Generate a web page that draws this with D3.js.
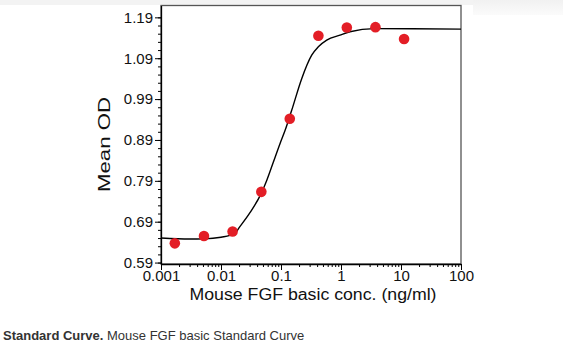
<!DOCTYPE html>
<html>
<head>
<meta charset="utf-8">
<script src="https://cdn.jsdelivr.net/npm/d3@7"></script>
<style>
html,body{margin:0;padding:0;background:#fff;}
svg{display:block;font-family:"Liberation Sans",Arial,Helvetica,sans-serif;}
</style>
</head>
<body>
<svg id="chart" width="563" height="355"></svg>
<script>
// Standards (ng/ml) and measured mean OD
const concentrations = [0.0017, 0.0052, 0.0156, 0.047, 0.14, 0.42, 1.25, 3.75, 11.25];
const meanOD = [0.637, 0.655, 0.666, 0.763, 0.942, 1.145, 1.165, 1.166, 1.137];
// Fitted curve
const curveX = [0.001, 0.003, 0.0053, 0.01, 0.0167, 0.0202, 0.0304, 0.0464, 0.0578, 0.0744, 0.0962, 0.1167, 0.1507, 0.2213, 0.325, 0.419, 0.578, 0.962, 1.41, 3.63, 15.8, 100];
const curveY = [0.650, 0.6475, 0.648, 0.652, 0.660, 0.676, 0.712, 0.758, 0.791, 0.8355, 0.881, 0.913, 0.9625, 1.040, 1.0975, 1.118, 1.1344, 1.1466, 1.1547, 1.1625, 1.1622, 1.1613];
// Axis ticks
const xTickValues = [0.001, 0.01, 0.1, 1, 10, 100];
const xTickLabels = ["0.001", "0.01", "0.1", "1", "10", "100"];
const yTickValues = [0.59, 0.69, 0.79, 0.89, 0.99, 1.09, 1.19];
const yTickLabels = ["0.59", "0.69", "0.79", "0.89", "0.99", "1.09", "1.19"];

const svg = d3.select("#chart");

// page background band at top
svg.append("rect").attr("x", 0).attr("y", 0).attr("width", 563).attr("height", 5).attr("fill", "#f3f3f3");
const grad = svg.append("defs").append("linearGradient").attr("id", "g1").attr("x1", 0).attr("y1", 0).attr("x2", 0).attr("y2", 1);
grad.append("stop").attr("offset", "0%").attr("stop-color", "#f1f1f1");
grad.append("stop").attr("offset", "100%").attr("stop-color", "#fbfbfb");
svg.append("rect").attr("x", 473).attr("y", 0).attr("width", 90).attr("height", 15).attr("fill", "url(#g1)");

const x = d3.scaleLog().domain([0.001, 100]).range([161, 461]);
const y = d3.scaleLinear().domain([0.5865, 1.219]).range([264, 5.5]);

// frame
svg.append("rect").attr("x", 161).attr("y", 5.5).attr("width", 300).attr("height", 258.5)
  .attr("fill", "#fff").attr("stroke", "#555").attr("stroke-width", 1.3);

// minor ticks
const xMinor = [];
for (let e = -3; e < 2; e++) for (let k = 2; k <= 9; k++) xMinor.push(k * Math.pow(10, e));
const yMinor = [];
for (let v = 0.59; v < 1.195; v += 0.02) yMinor.push(+v.toFixed(2));

svg.append("g").attr("transform", "translate(0,264)")
  .call(d3.axisBottom(x).tickValues(xMinor).tickSize(3).tickFormat(""))
  .call(g => g.select(".domain").remove())
  .selectAll("line").attr("stroke", "#000");
svg.append("g").attr("transform", "translate(161,0)")
  .call(d3.axisLeft(y).tickValues(yMinor).tickSize(3).tickFormat(""))
  .call(g => g.select(".domain").remove())
  .selectAll("line").attr("stroke", "#000");

// major axes
const xAxis = svg.append("g").attr("transform", "translate(0,264)")
  .call(d3.axisBottom(x).tickValues(xTickValues).tickSize(6).tickSizeOuter(0).tickPadding(0)
    .tickFormat((d, i) => xTickLabels[i]));
xAxis.select(".domain").attr("stroke", "#000").attr("stroke-width", 1.3);
xAxis.selectAll("text").attr("font-size", 15).attr("fill", "#111").attr("font-family", "'Liberation Sans',Arial,sans-serif");

const yAxis = svg.append("g").attr("transform", "translate(161,0)")
  .call(d3.axisLeft(y).tickValues(yTickValues).tickSize(6).tickSizeOuter(0).tickPadding(2)
    .tickFormat((d, i) => yTickLabels[i]));
yAxis.select(".domain").attr("stroke", "#000").attr("stroke-width", 1.3);
yAxis.selectAll("text").attr("font-size", 15).attr("fill", "#111").attr("font-family", "'Liberation Sans',Arial,sans-serif");

// curve
const line = d3.line().x(d => x(d[0])).y(d => y(d[1])).curve(d3.curveMonotoneX);
svg.append("path").datum(curveX.map((v, i) => [v, curveY[i]]))
  .attr("d", line).attr("fill", "none").attr("stroke", "#000").attr("stroke-width", 1.4);

// points
svg.append("g").selectAll("circle").data(concentrations.map((c, i) => [c, meanOD[i]]))
  .join("circle").attr("cx", d => x(d[0])).attr("cy", d => y(d[1])).attr("r", 5.3)
  .attr("fill", "#e31e26");

// axis titles
svg.append("text").attr("x", 313).attr("y", 300).attr("text-anchor", "middle")
  .attr("font-size", 16).attr("textLength", 247).attr("lengthAdjust", "spacingAndGlyphs")
  .attr("fill", "#111").text("Mouse FGF basic conc. (ng/ml)");
svg.append("text").attr("transform", "translate(110,144.5) rotate(-90)").attr("text-anchor", "middle")
  .attr("font-size", 17).attr("textLength", 95).attr("lengthAdjust", "spacingAndGlyphs")
  .attr("fill", "#111").text("Mean OD");

// caption
const cap = svg.append("text").attr("x", 3).attr("y", 340).attr("font-size", 13).attr("fill", "#333")
  .attr("font-family", "'Liberation Sans',Arial,sans-serif");
cap.append("tspan").attr("font-weight", "bold").text("Standard Curve.");
cap.append("tspan").text(" Mouse FGF basic Standard Curve");
</script>
</body>
</html>
